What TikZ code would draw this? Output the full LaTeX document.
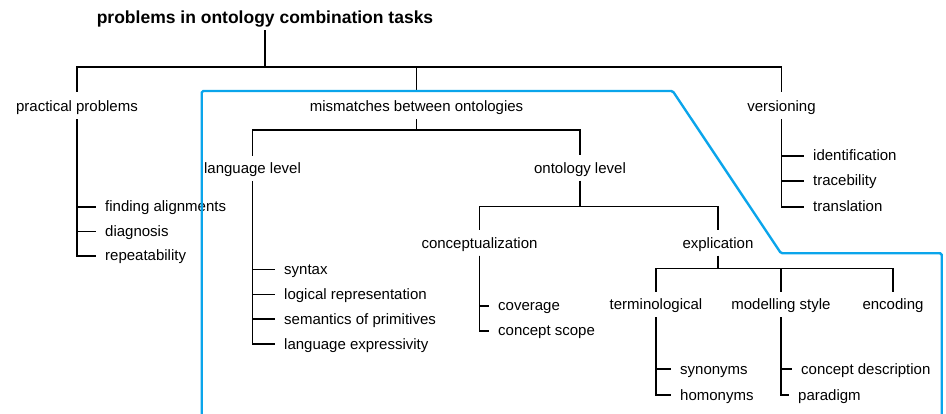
\documentclass[tikz,border=0pt]{standalone}
\usepackage{fontspec}
\setmainfont{Liberation Sans}
\definecolor{regionblue}{RGB}{10,165,235}
\begin{document}
\begin{tikzpicture}[x=1pt,y=-1pt,
  every node/.style={font=\fontsize{15}{18}\selectfont, inner sep=0pt,
                     text height=12pt, text depth=2pt},
  head/.style={anchor=base},
  titlebox/.style={anchor=base, font=\fontsize{17.5}{21}\selectfont\bfseries},
  leaf/.style={anchor=base west, inner xsep=9pt},
  link/.style={line width=1.9pt, black},
  tohead/.style={shorten >=6pt},
  fromhead/.style={shorten <=5pt},
  region/.style={line width=2.4pt, draw=regionblue, rounded corners=1.5pt}]
\useasboundingbox (0,0) rectangle (946,414);

% headings
\node[titlebox] (title) at (265,24) {problems in ontology combination tasks};
\node[head] (pp)    at (77,112)    {practical problems};
\node[head] (mm)    at (416.5,112) {mismatches between ontologies};
\node[head] (ver)   at (781.5,112) {versioning};
\node[head] (lang)  at (252.5,174) {language level};
\node[head] (ont)   at (580,173.5) {ontology level};
\node[head] (concz) at (479.5,248.5) {conceptualization};
\node[head] (expl)  at (718,248.5) {explication};
\node[head] (term)  at (656,310)   {terminological};
\node[head] (mod)   at (781,310)   {modelling style};
\node[head] (enc)   at (893,310)   {encoding};

% leaves
\node[leaf] (fa)   at (96,212)    {finding alignments};
\node[leaf] (diag) at (96,236.5)  {diagnosis};
\node[leaf] (rep)  at (96,261)    {repeatability};
\node[leaf] (idf)  at (804,161)   {identification};
\node[leaf] (trc)  at (804,186)   {tracebility};
\node[leaf] (trl)  at (804,212)   {translation};
\node[leaf] (syn)  at (275,274.5) {syntax};
\node[leaf] (lrep) at (275,299.5) {logical representation};
\node[leaf] (sem)  at (275,324)   {semantics of primitives};
\node[leaf] (lexp) at (275,349)   {language expressivity};
\node[leaf] (cov)  at (489,311)   {coverage};
\node[leaf] (csc)  at (489,336)   {concept scope};
\node[leaf] (syno) at (671,374)   {synonyms};
\node[leaf] (homo) at (671,400)   {homonyms};
\node[leaf] (cdes) at (792,374)   {concept description};
\node[leaf] (para) at (789,400)   {paradigm};

% junction points of the branch bars
\coordinate (b0) at (265,67);
\coordinate (b1) at (416.5,130);
\coordinate (b2) at (580,206.5);
\coordinate (b3) at (718,268.5);

% tree connectors
\draw[link, shorten <=4pt] (title.south) -- (b0);
\draw[link, shorten >=8pt] (b0) -| (pp.north);
\draw[link, shorten >=8pt] (b0) -| (mm.north);
\draw[link, shorten >=8pt] (b0) -| (ver.north);

\draw[link, fromhead] (pp.south) |- (fa.west);
\draw[link, fromhead] (pp.south) |- (diag.west);
\draw[link, fromhead] (pp.south) |- (rep.west);

\draw[link, fromhead] (ver.south) |- (idf.west);
\draw[link, fromhead] (ver.south) |- (trc.west);
\draw[link, fromhead] (ver.south) |- (trl.west);

\draw[link, fromhead] (mm.south) -- (b1);
\draw[link, tohead] (b1) -| (lang.north);
\draw[link, tohead] (b1) -| (ont.north);

\draw[link, fromhead] (lang.south) |- (syn.west);
\draw[link, fromhead] (lang.south) |- (lrep.west);
\draw[link, fromhead] (lang.south) |- (sem.west);
\draw[link, fromhead] (lang.south) |- (lexp.west);

\draw[link, fromhead] (ont.south) -- (b2);
\draw[link, tohead] (b2) -| (concz.north);
\draw[link, tohead] (b2) -| (expl.north);

\draw[link, fromhead] (concz.south) |- (cov.west);
\draw[link, fromhead] (concz.south) |- (csc.west);

\draw[link, fromhead] (expl.south) -- (b3);
\draw[link, tohead] (b3) -| (term.north);
\draw[link, tohead] (b3) -| (mod.north);
\draw[link, tohead] (b3) -| (enc.north);

\draw[link, fromhead] (term.south) |- (syno.west);
\draw[link, fromhead] (term.south) |- (homo.west);
\draw[link, fromhead] (mod.south) |- (cdes.west);
\draw[link, fromhead] (mod.south) |- (para.west);

% outline of the mismatch region
\draw[region] (201.7,415) -- (201.7,91) -- (672.7,91) -- (781,253.3)
  -- (941.7,253.3) -- (941.7,415);
\end{tikzpicture}
\end{document}
